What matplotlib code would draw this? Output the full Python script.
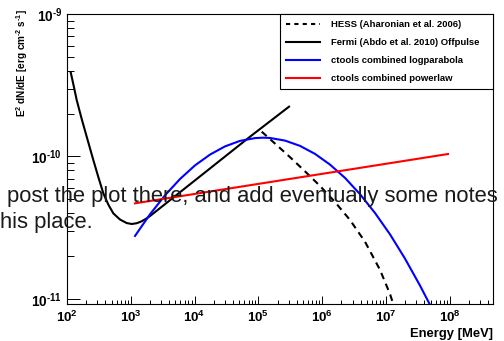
import matplotlib
matplotlib.use("Agg")
import matplotlib.pyplot as plt
from matplotlib.ticker import FixedLocator, NullFormatter, FixedFormatter
from matplotlib.lines import Line2D

# ---- data (E in MeV, E^2 dN/dE in erg cm^-2 s^-1) ----
fermi_E = [114.3, 127.4, 141.9, 170.0, 203.6, 258.4, 309.5, 370.7, 443.9, 531.7,
           677.1, 862.5, 1033, 1237, 1482, 1775, 2000, 1.215e4, 7.386e4, 3.017e5]
fermi_F = [3.90e-10, 3.125e-10, 2.49e-10, 1.833e-10, 1.377e-10, 9.45e-11, 7.18e-11,
           5.52e-11, 4.60e-11, 3.99e-11, 3.61e-11, 3.41e-11, 3.36e-11, 3.40e-11,
           3.51e-11, 3.68e-11, 3.82e-11, 7.25e-11, 1.377e-10, 2.236e-10]

hess_E = [1.127e5, 1.82e5, 3.13e5, 5.37e5, 9.24e5, 1.588e6, 2.73e6, 4.69e6,
          8.05e6, 1.156e7, 1.656e7]
hess_F = [1.493e-10, 1.232e-10, 9.89e-11, 7.87e-11, 6.21e-11, 4.79e-11, 3.58e-11,
          2.52e-11, 1.60e-11, 1.082e-11, 6.56e-12]

logpar_E = [1164, 2000, 3436, 5906, 1.014e4, 1.743e4, 2.995e4, 5.15e4, 8.85e4,
            1.18e5, 1.52e5, 2.61e5, 4.49e5, 7.71e5, 1.325e6, 2.28e6, 3.91e6,
            6.73e6, 1.156e7, 1.986e7, 3.41e7, 4.90e7, 7.0e7]
logpar_F = [2.77e-11, 3.93e-11, 5.34e-11, 6.95e-11, 8.66e-11, 1.031e-10, 1.177e-10,
            1.287e-10, 1.346e-10, 1.355e-10, 1.349e-10, 1.293e-10, 1.187e-10,
            1.043e-10, 8.77e-11, 7.07e-11, 5.44e-11, 4.01e-11, 2.84e-11, 1.918e-11,
            1.242e-11, 9.08e-12, 6.5e-12]

pl_E = [1164, 9.38e7]
pl_F = [4.69e-11, 1.041e-10]

labels = ["HESS (Aharonian et al. 2006)",
          "Fermi (Abdo et al. 2010) Offpulse",
          "ctools combined logparabola",
          "ctools combined powerlaw"]

x_major = [1e2, 1e3, 1e4, 1e5, 1e6, 1e7, 1e8]
x_labels = [r"$\mathbf{10^{2}}$", r"$\mathbf{10^{3}}$", r"$\mathbf{10^{4}}$",
            r"$\mathbf{10^{5}}$", r"$\mathbf{10^{6}}$", r"$\mathbf{10^{7}}$",
            r"$\mathbf{10^{8}}$"]
y_major = [1e-11, 1e-10, 1e-9]
y_labels = [r"$\mathbf{10^{\text{-}11}}$", r"$\mathbf{10^{\text{-}10}}$",
            r"$\mathbf{10^{\text{-}9}}$"]

# ---- styling ----
plt.rcParams["font.family"] = ["Liberation Sans", "DejaVu Sans"]
plt.rcParams["mathtext.fontset"] = "custom"
plt.rcParams["mathtext.rm"] = "Liberation Sans:bold"
plt.rcParams["mathtext.bf"] = "Liberation Sans:bold"
plt.rcParams["mathtext.it"] = "Liberation Sans:italic"

W, H = 504, 341
fig = plt.figure(figsize=(W / 100, H / 100), dpi=100)
ax = fig.add_axes([67 / W, 37 / H, 426 / W, 290 / H])
ax.set_xscale("log")
ax.set_yscale("log")
ax.set_xlim(1e2, 4.75e8)
ax.set_ylim(9.22e-12, 1e-9)

lw = 1.5
ax.plot(hess_E, hess_F, color="black", lw=lw, dashes=(3.2, 2.4))
ax.plot(fermi_E, fermi_F, color="black", lw=lw)
ax.plot(logpar_E, logpar_F, color="#0000ff", lw=lw)
ax.plot(pl_E, pl_F, color="#ff0000", lw=lw)

for s in ax.spines.values():
    s.set_linewidth(0.8)

# ticks
ax.xaxis.set_major_locator(FixedLocator(x_major))
ax.xaxis.set_major_formatter(FixedFormatter(x_labels))
x_minor = [k * 10 ** n for n in range(2, 9) for k in range(2, 10) if k * 10 ** n < 4.75e8]
ax.xaxis.set_minor_locator(FixedLocator(x_minor))
ax.xaxis.set_minor_formatter(NullFormatter())
ax.yaxis.set_major_locator(FixedLocator(y_major))
ax.yaxis.set_major_formatter(FixedFormatter(y_labels))
y_minor = [k * 10.0 ** n for n in range(-12, -9) for k in range(2, 10)]
ax.yaxis.set_minor_locator(FixedLocator(y_minor))
ax.yaxis.set_minor_formatter(NullFormatter())

ax.tick_params(axis="x", which="major", direction="in", length=5.8, width=0.7,
               pad=4, labelsize=9.6, top=False)
ax.tick_params(axis="x", which="minor", direction="in", length=2.9, width=0.7, top=False)
ax.tick_params(axis="y", which="major", direction="in", length=9.4, width=0.7,
               pad=3.5, labelsize=9.8, right=False)
ax.tick_params(axis="y", which="minor", direction="in", length=4.7, width=0.7, right=False)

# axis titles
fig.text(493 / W, 1 - 337.5 / H, "Energy [MeV]", ha="right", va="baseline",
         fontsize=9.4, fontweight="bold")
fig.text(22 / W, 1 - 9 / H, r"$\mathbf{E^{2}\ dN/dE\ [erg\ cm^{\text{-}2}\ s^{\text{-}1}]}$",
         rotation=90, ha="center", va="top", fontsize=7.2)

# legend
handles = [Line2D([], [], color="black", lw=lw, dashes=(2.0, 2.0)),
           Line2D([], [], color="black", lw=lw),
           Line2D([], [], color="#0000ff", lw=lw),
           Line2D([], [], color="#ff0000", lw=lw)]
leg = ax.legend(handles, labels, loc="upper right", bbox_to_anchor=(0.5, 0.0, 0.5, 1.0),
                mode="expand", borderaxespad=0, fancybox=False, framealpha=1,
                edgecolor="black", prop={"weight": "bold", "size": 6.8},
                handlelength=3.6, handletextpad=1.1, borderpad=0.65, labelspacing=0.95)
leg.get_frame().set_linewidth(0.8)

# overlaid page text
fig.text(6.7 / W, 1 - 201.7 / H, "post the plot there, and add eventually some notes",
         fontsize=15.8, color="#1a1a1a", va="baseline", ha="left", zorder=10)
fig.text(0.0, 1 - 228 / H, "his place.", fontsize=15.8, color="#1a1a1a",
         va="baseline", ha="left", zorder=10)

fig.savefig("out.png", dpi=100)
